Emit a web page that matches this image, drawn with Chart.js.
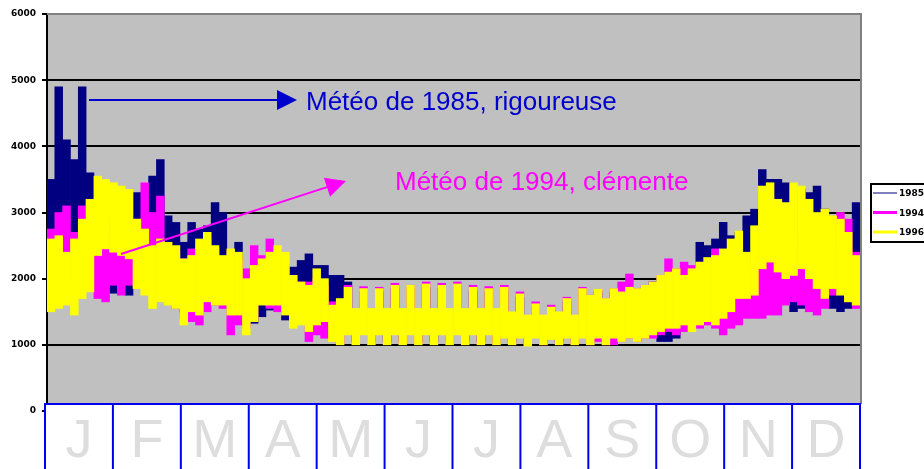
<!DOCTYPE html>
<html>
<head>
<meta charset="utf-8">
<script src="https://cdn.jsdelivr.net/npm/chart.js@4"></script>
<style>
  html, body { margin: 0; padding: 0; background: #fff; }
</style>
</head>
<body>
<canvas id="load-chart" width="924" height="469"></canvas>
<script>
// months shown under the plot
const months = ['J', 'F', 'M', 'A', 'M', 'J', 'J', 'A', 'S', 'O', 'N', 'D'];
const seriesNames = ['1985', '1994', '1996'];
const yTicks = [0, 1000, 2000, 3000, 4000, 5000, 6000];

// half-week bins (104 per year): top and bottom of the daily swing
const high1985 = [
  3500, 4900, 4100, 3800, 4900, 3600, 3000, 2900, 2800, 2700, 2600, 3300, 3300,
  3550, 3800, 2950, 2850, 2550, 2850, 2750, 2800, 3150, 3000, 2400, 2550, 2050,
  2000, 2000, 2100, 2100, 2000, 2175, 2275, 2375, 2200, 2200, 2050, 2050, 1950,
  1500, 1800, 1500, 1800, 1500, 1850, 1500, 1850, 1500, 1870, 1500, 1850, 1500,
  1870, 1500, 1820, 1500, 1800, 1500, 1820, 1450, 1720, 1400, 1570, 1400, 1520,
  1450, 1650, 1400, 1800, 1700, 1800, 1650, 1800, 1750, 1850, 1800, 1850, 1950,
  2000, 2100, 2100, 2150, 2150, 2550, 2500, 2600, 2850, 2650, 2700, 2950, 3050,
  3650, 3500, 3500, 3450, 3350, 3350, 3300, 3400, 3050, 2900, 2900, 2800, 3150
];
const low1985 = [
  2300, 2500, 2600, 2500, 2500, 2200, 2200, 2200, 1780, 1800, 1750, 2000, 2200,
  2000, 2000, 1800, 1700, 1500, 1600, 1600, 1700, 1700, 1700, 1600, 1600, 1650,
  1325, 1425, 1525, 1625, 1375, 1325, 1500, 1600, 1600, 1500, 1500, 1550, 1450,
  1050, 1180, 1050, 1180, 1050, 1180, 1050, 1180, 1050, 1180, 1050, 1180, 1050,
  1180, 1050, 1180, 1050, 1180, 1050, 1130, 1050, 1130, 1030, 1130, 1050, 1110,
  1050, 1130, 1050, 1130, 1050, 1130, 1050, 1130, 1080, 1130, 1080, 1130, 1150,
  1050, 1050, 1100, 1300, 1300, 1300, 1350, 1350, 1350, 1500, 1700, 1700, 1800,
  2000, 2100, 2100, 2000, 1500, 1550, 1700, 1800, 1700, 1550, 1500, 1550, 1600
];
const high1994 = [
  2750, 3000, 3100, 2700, 3100, 3200, 2900, 2800, 2700, 2600, 2600, 2900, 3450,
  3000, 3250, 2500, 2400, 2300, 2450, 2500, 2600, 2450, 2300, 2400, 2300, 2150,
  2500, 2350, 2600, 2450, 2200, 2050, 1950, 1950, 2000, 1900, 1650, 1650, 1900,
  1500, 1880, 1500, 1870, 1500, 1930, 1500, 1900, 1500, 1950, 1500, 1930, 1500,
  1950, 1500, 1900, 1500, 1880, 1500, 1900, 1450, 1800, 1400, 1650, 1400, 1600,
  1450, 1720, 1400, 1870, 1750, 1820, 1700, 1850, 1950, 2070, 1850, 1900, 1950,
  2050, 2300, 2150, 2250, 2200, 2250, 2250, 2450, 2400, 2400, 2300, 2200, 2100,
  2300, 2500, 2300, 2150, 2600, 2500, 2200, 2000, 1900, 2500, 3000, 2900, 2400
];
const low1994 = [
  1800, 1900, 2000, 2000, 2000, 2000, 1700, 1650, 1900, 1750, 1900, 2000, 1900,
  1800, 1800, 1700, 1550, 1400, 1350, 1300, 1500, 1600, 1550, 1150, 1300, 1250,
  1400, 1650, 1550, 1500, 1500, 1350, 1350, 1050, 1150, 1100, 1100, 1020, 1170,
  1020, 1170, 1020, 1170, 1020, 1170, 1020, 1170, 1020, 1170, 1020, 1170, 1020,
  1170, 1020, 1170, 1020, 1170, 1020, 1120, 1020, 1120, 1000, 1120, 1000, 1100,
  1020, 1120, 1020, 1120, 1000, 1050, 1000, 1000, 1050, 1100, 1050, 1100, 1100,
  1150, 1200, 1150, 1200, 1250, 1250, 1300, 1250, 1150, 1250, 1300, 1400, 1400,
  1400, 1450, 1450, 1600, 1650, 1600, 1500, 1450, 1550, 1750, 1900, 1650, 1550
];
const high1996 = [
  2600, 2650, 2400, 2600, 2900, 3200, 3550, 3500, 3450, 3400, 3350, 2900, 2750,
  2500, 2600, 2550, 2500, 2300, 2350, 2600, 2700, 2500, 2350, 2450, 2400, 2000,
  2200, 2300, 2400, 2500, 2400, 2050, 1950, 1900, 2150, 2000, 1600, 1700, 1870,
  1550, 1850, 1550, 1850, 1550, 1900, 1550, 1900, 1550, 1920, 1550, 1900, 1550,
  1920, 1550, 1870, 1550, 1850, 1550, 1870, 1500, 1770, 1450, 1620, 1450, 1570,
  1500, 1700, 1450, 1850, 1750, 1840, 1700, 1850, 1800, 1870, 1850, 1900, 1950,
  2050, 2100, 2150, 2050, 2150, 2250, 2320, 2350, 2450, 2600, 2720, 2400, 2800,
  3400, 3450, 3200, 3150, 3450, 3400, 3200, 3000, 3050, 2950, 2900, 2700, 2350
];
const low1996 = [
  1500, 1550, 1600, 1450, 1700, 1800, 2350, 2450, 2400, 2350, 2300, 1850, 1750,
  1550, 1650, 1600, 1550, 1300, 1500, 1450, 1650, 1600, 1600, 1450, 1450, 1150,
  1350, 1600, 1600, 1600, 1450, 1250, 1300, 1200, 1300, 1350, 1050, 1000, 1150,
  1000, 1150, 1000, 1150, 1000, 1150, 1000, 1150, 1000, 1150, 1000, 1150, 1000,
  1150, 1000, 1150, 1000, 1150, 1000, 1100, 1000, 1100, 980, 1100, 1000, 1080,
  1000, 1100, 1000, 1100, 1000, 1100, 1000, 1100, 1050, 1100, 1050, 1100, 1150,
  1200, 1250, 1250, 1300, 1200, 1300, 1350, 1300, 1400, 1500, 1700, 1700, 1750,
  2150, 2250, 2100, 2000, 2050, 2150, 2000, 1850, 1700, 1850, 1750, 1650, 1600
];

const seriesColors = ['#000080', '#FF00FF', '#FFFF00'];
const bins = high1985.map((_, i) => i);
const ranges = (lo, hi) => lo.map((v, i) => [v, hi[i]]);

function arrow(c, x1, y1, x2, y2, color) {
  const ang = Math.atan2(y2 - y1, x2 - x1);
  const len = 20, half = 10;
  const bx = x2 - len * Math.cos(ang), by = y2 - len * Math.sin(ang);
  c.strokeStyle = color;
  c.fillStyle = color;
  c.lineWidth = 2;
  c.beginPath();
  c.moveTo(x1, y1);
  c.lineTo(bx, by);
  c.stroke();
  c.beginPath();
  c.moveTo(x2, y2);
  c.lineTo(bx + half * Math.sin(ang), by - half * Math.cos(ang));
  c.lineTo(bx - half * Math.sin(ang), by + half * Math.cos(ang));
  c.closePath();
  c.fill();
}

const plotBackground = {
  id: 'plotBackground',
  beforeDraw(chart) {
    const a = chart.chartArea;
    chart.ctx.save();
    chart.ctx.fillStyle = '#C0C0C0';
    chart.ctx.fillRect(a.left, a.top, a.right - a.left, a.bottom - a.top);
    chart.ctx.restore();
  }
};

const decorations = {
  id: 'decorations',
  afterDraw(chart) {
    const c = chart.ctx;
    const a = chart.chartArea;
    c.save();

    // frame top / right
    c.strokeStyle = '#808080';
    c.lineWidth = 2;
    c.beginPath();
    c.moveTo(a.left, a.top);
    c.lineTo(a.right + 1, a.top);
    c.lineTo(a.right + 1, 404);
    c.stroke();

    // month table
    const tTop = 404, tLeft = 45;
    const cellW = (a.right - tLeft) / months.length;
    c.fillStyle = '#fff';
    c.fillRect(tLeft - 1, tTop, a.right - tLeft + 4, chart.height - tTop);
    c.strokeStyle = '#0000EE';
    c.lineWidth = 2;
    c.beginPath();
    c.moveTo(tLeft - 1, tTop);
    c.lineTo(a.right + 1, tTop);
    for (let k = 0; k <= months.length; k++) {
      const x = tLeft + k * cellW;
      c.moveTo(x, tTop);
      c.lineTo(x, chart.height);
    }
    c.stroke();
    c.fillStyle = '#DDDDDD';
    c.font = '54px "Liberation Sans", Arial, sans-serif';
    c.textAlign = 'center';
    c.textBaseline = 'alphabetic';
    months.forEach((m, k) => c.fillText(m, tLeft + (k + 0.5) * cellW, 457));

    // legend box (cut by the right edge)
    c.fillStyle = '#fff';
    c.fillRect(871, 184, 60, 58);
    c.strokeStyle = '#000';
    c.lineWidth = 2;
    c.strokeRect(871, 184, 60, 58);
    c.font = 'bold 9px "DejaVu Sans", sans-serif';
    c.textAlign = 'left';
    c.textBaseline = 'middle';
    seriesNames.forEach((name, k) => {
      const y = 193 + k * 19.5;
      c.strokeStyle = seriesColors[k];
      c.lineWidth = k === 0 ? 1 : 3;
      c.beginPath();
      c.moveTo(873, y);
      c.lineTo(897, y);
      c.stroke();
      c.fillStyle = '#000';
      c.fillText(name, 899, y + 1);
    });

    // annotations
    arrow(c, 89, 100, 297, 100, '#0000CC');
    arrow(c, 121, 254, 346, 181, '#FF00FF');
    c.font = '26px "Liberation Sans", Arial, sans-serif';
    c.textBaseline = 'alphabetic';
    c.fillStyle = '#0000CC';
    c.fillText('Météo de 1985, rigoureuse', 306, 110);
    c.fillStyle = '#FF00FF';
    c.fillText('Météo de 1994, clémente', 395, 190);

    c.restore();
  }
};

new Chart(document.getElementById('load-chart'), {
  type: 'bar',
  data: {
    labels: bins,
    datasets: [
      { label: seriesNames[0], data: ranges(low1985, high1985), backgroundColor: seriesColors[0], order: 3 },
      { label: seriesNames[1], data: ranges(low1994, high1994), backgroundColor: seriesColors[1], order: 2 },
      { label: seriesNames[2], data: ranges(low1996, high1996), backgroundColor: seriesColors[2], order: 1 }
    ]
  },
  options: {
    responsive: false,
    animation: false,
    devicePixelRatio: 1,
    layout: { padding: { left: 0, right: 64, top: 14, bottom: 58 } },
    datasets: {
      bar: { grouped: false, barPercentage: 1, categoryPercentage: 1, borderWidth: 0 }
    },
    plugins: {
      legend: { display: false },
      tooltip: { enabled: false }
    },
    scales: {
      x: { display: false },
      y: {
        min: yTicks[0],
        max: yTicks[yTicks.length - 1],
        afterFit(scale) { scale.width = 47; },
        ticks: {
          stepSize: 1000,
          color: '#000',
          padding: 6,
          font: { family: 'DejaVu Sans', size: 9, weight: 'bold' },
          callback: value => String(value)
        },
        grid: {
          color: ctx => (ctx.tick && ctx.tick.value === 6000 ? '#808080' : '#000'),
          lineWidth: 2,
          tickLength: 5,
          tickColor: '#000'
        },
        border: { color: '#000', width: 2 }
      }
    }
  },
  plugins: [plotBackground, decorations]
});
</script>
</body>
</html>
